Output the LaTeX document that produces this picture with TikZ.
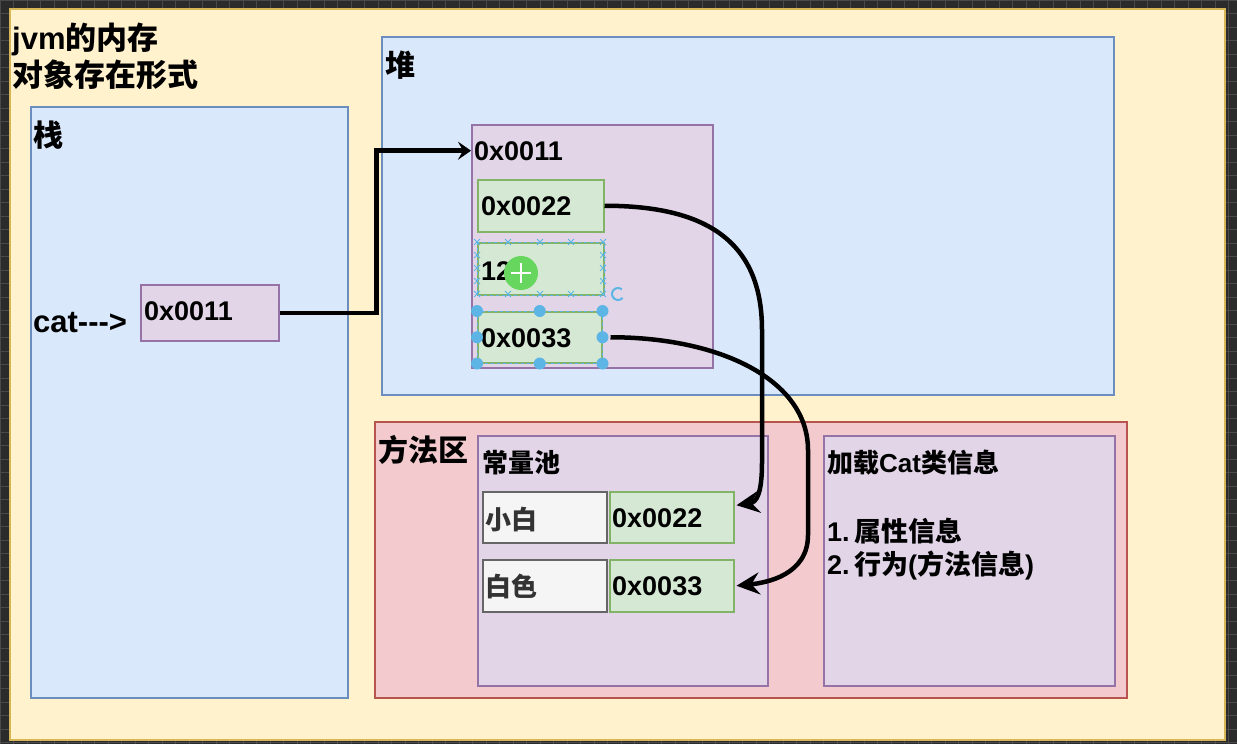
\documentclass[tikz,border=0pt]{standalone}
\usepackage{fontspec}
\setmainfont{Liberation Sans}
\newfontfamily\cjk{Noto Sans CJK SC}
\usepackage{tikz}
\usetikzlibrary{positioning, arrows, arrows.meta}
\definecolor{bgdark}{HTML}{2B2B2B}
\definecolor{gridgray}{HTML}{4A4A4A}
\definecolor{yellowfill}{HTML}{FFF2CC}
\definecolor{yellowline}{HTML}{D6B656}
\definecolor{bluefill}{HTML}{DAE8FC}
\definecolor{blueline}{HTML}{6C8EBF}
\definecolor{redfill}{HTML}{F3CBCF}
\definecolor{redline}{HTML}{B85450}
\definecolor{purplefill}{HTML}{E1D5E7}
\definecolor{purpleline}{HTML}{9673A6}
\definecolor{greenfill}{HTML}{D5E8D4}
\definecolor{greenline}{HTML}{82B366}
\definecolor{grayfill}{HTML}{F5F5F5}
\definecolor{grayline}{HTML}{666666}
\definecolor{selblue}{HTML}{5DB5E6}
\definecolor{grabgreen}{HTML}{66D65E}
\tikzstyle{canvas} = [rectangle, anchor=north west, inner sep=0pt, draw=yellowline, fill=yellowfill, line width=1.5pt]
\tikzstyle{memarea} = [rectangle, anchor=north west, inner sep=0pt, draw=blueline, fill=bluefill, line width=1.5pt]
\tikzstyle{methodarea} = [rectangle, anchor=north west, inner sep=0pt, draw=redline, fill=redfill, line width=1.5pt]
\tikzstyle{objbox} = [rectangle, anchor=north west, inner sep=0pt, draw=purpleline, fill=purplefill, line width=1.5pt]
\tikzstyle{field} = [rectangle, anchor=north west, inner sep=0pt, draw=greenline, fill=greenfill, line width=1.5pt]
\tikzstyle{keybox} = [rectangle, anchor=north west, inner sep=0pt, draw=grayline, fill=grayfill, line width=1.5pt]
\tikzstyle{txt} = [anchor=base west, inner sep=0pt, font=\bfseries]
\tikzstyle{selline} = [selblue, dashed, line width=1pt]
\tikzstyle{handle} = [fill=selblue]
\tikzstyle{arrow} = [line width=4.5pt,->,>={Stealth[length=23pt,width=22pt,inset=8pt]}]
\tikzstyle{smallarrow} = [line width=4.5pt,->,>={Stealth[length=13pt,width=18pt,inset=5pt]}]

\begin{document}
\begin{tikzpicture}[x=1pt,y=-1pt]
        \useasboundingbox (0,0) rectangle (1237,744);
        \fill [bgdark] (0,0) rectangle (1237,744);
        \draw [gridgray, step=13.5pt] (0,0) grid (1237,744);

        \node (frame) [canvas, minimum width=1215pt, minimum height=731pt] at (9,8) {};
        \node (title1) [txt, font=\bfseries\fontsize{31}{37}\selectfont] at (12,49) {jvm{\cjk 的内存}};
        \node (title2) [txt, font=\bfseries\fontsize{31}{37}\selectfont] at (12,86) {\cjk 对象存在形式};

        % stack
        \node (stack) [memarea, minimum width=317pt, minimum height=591pt] at (30,106) {};
        \node (stacklabel) [txt, font=\bfseries\fontsize{30}{36}\selectfont] at (33,146) {\cjk 栈};
        \node (catlabel) [txt, font=\bfseries\fontsize{31}{37}\selectfont] at (33,332) {cat{-}{-}{-}>};
        \node (stackref) [objbox, minimum width=138pt, minimum height=56pt] at (140,284) {};
        \node (stackaddr) [txt, font=\bfseries\fontsize{27}{32}\selectfont] at (144,320) {0x0011};

        % heap
        \node (heap) [memarea, minimum width=732pt, minimum height=358pt] at (381,36) {};
        \node (heaplabel) [txt, font=\bfseries\fontsize{30}{36}\selectfont] at (385,76) {\cjk 堆};
        \node (obj) [objbox, minimum width=241pt, minimum height=243pt] at (471,124) {};
        \node (objaddr) [txt, font=\bfseries\fontsize{27}{32}\selectfont] at (474,160) {0x0011};
        \node (f22) [field, minimum width=126pt, minimum height=52pt] at (477,179) {};
        \node (f22text) [txt, font=\bfseries\fontsize{27}{32}\selectfont] at (481,215) {0x0022};
        \node (f12) [field, minimum width=126pt, minimum height=52pt] at (477,242) {};
        \node (f33) [field, minimum width=124pt, minimum height=51pt] at (477,311) {};
        \node (f33text) [txt, font=\bfseries\fontsize{27}{32}\selectfont] at (481,347) {0x0033};

        % selection marks of the editor
        \draw [selline] (f12.north west) rectangle (f12.south east);
        \foreach \x in {477,508,540,571,603} {
            \draw [selblue, line width=1pt] (\x-3,239) -- (\x+3,245) (\x-3,245) -- (\x+3,239);
            \draw [selblue, line width=1pt] (\x-3,291) -- (\x+3,297) (\x-3,297) -- (\x+3,291);
        }
        \foreach \y in {255,268,281} {
            \draw [selblue, line width=1pt] (474,\y-3) -- (480,\y+3) (474,\y+3) -- (480,\y-3);
            \draw [selblue, line width=1pt] (600,\y-3) -- (606,\y+3) (600,\y+3) -- (606,\y-3);
        }
        \node (f12text) [txt, font=\bfseries\fontsize{27}{32}\selectfont] at (481,280) {12};
        \fill [grabgreen] (521,273) circle (17pt);
        \draw [white, line width=2pt] (511,273) -- (531,273) (521,263) -- (521,283);
        \draw [selline, solid, line width=2pt] (618,294) ++(50:6pt) arc (50:320:6pt);
        \draw [selline] (f33.north west) rectangle (f33.south east);
        \foreach \a in {north west, north, north east, west, east, south west, south, south east}
            \fill [handle] (f33.\a) circle (6pt);

        % method area
        \node (method) [methodarea, minimum width=752pt, minimum height=276pt] at (374,421) {};
        \node (methodlabel) [txt, font=\bfseries\fontsize{30}{36}\selectfont] at (378,461) {\cjk 方法区};
        \node (pool) [objbox, minimum width=290pt, minimum height=250pt] at (477,435) {};
        \node (poollabel) [txt, font=\bfseries\fontsize{26}{31}\selectfont] at (482,472) {\cjk 常量池};
        \node (k1) [keybox, minimum width=124pt, minimum height=51pt] at (482,491) {};
        \node (k1text) [txt, font=\bfseries\fontsize{26}{31}\selectfont, text=black!80] at (485,529) {\cjk 小白};
        \node (v1) [field, minimum width=124pt, minimum height=51pt] at (609,491) {};
        \node (v1text) [txt, font=\bfseries\fontsize{27}{32}\selectfont] at (612,527) {0x0022};
        \node (k2) [keybox, minimum width=124pt, minimum height=52pt] at (482,559) {};
        \node (k2text) [txt, font=\bfseries\fontsize{26}{31}\selectfont, text=black!80] at (485,596) {\cjk 白色};
        \node (v2) [field, minimum width=124pt, minimum height=52pt] at (609,559) {};
        \node (v2text) [txt, font=\bfseries\fontsize{27}{32}\selectfont] at (612,595) {0x0033};
        \node (classinfo) [objbox, minimum width=291pt, minimum height=250pt] at (823,435) {};
        \node (classhead) [txt, font=\bfseries\fontsize{26}{31}\selectfont] at (827,472) {{\cjk 加载}Cat{\cjk 类信息}};
        \node (classitem1) [txt, font=\bfseries\fontsize{27}{32}\selectfont] at (827,541) {1.\,{\cjk 属性信息}};
        \node (classitem2) [txt, font=\bfseries\fontsize{27}{32}\selectfont] at (827,574) {2.\,{\cjk 行为}({\cjk 方法信息})};

        % references
        \draw [smallarrow] (stackref.east) -- ++(97,0) |- (obj.west |- objaddr.west);
        \draw [arrow] (f22.east) .. controls +(100,0) and +(0,-90) .. (762,330) -- (762,462) .. controls +(0,32) and +(20,-3) .. ([xshift=2pt,yshift=12pt]v1.east);
        \draw [arrow] ([xshift=8pt]f33.east) .. controls +(110,0) and +(0,-70) .. (808,450) -- (808,535) .. controls +(0,40) and +(30,-3) .. ([xshift=2pt]v2.east);
\end{tikzpicture}
\end{document}
